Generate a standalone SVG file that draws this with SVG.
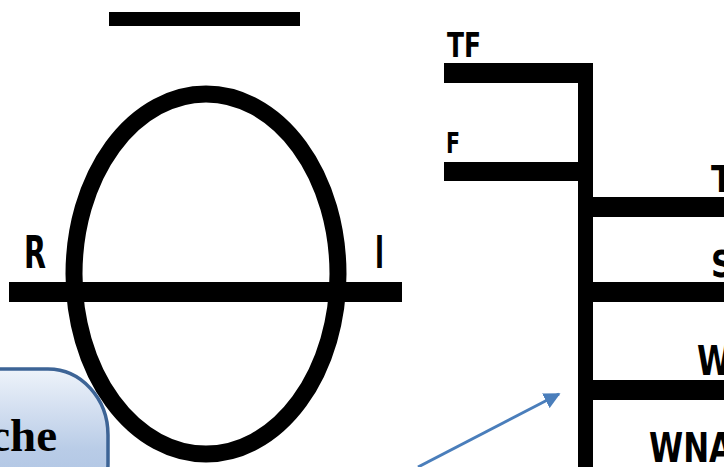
<svg xmlns="http://www.w3.org/2000/svg" width="724" height="467" viewBox="0 0 724 467">
<defs>
<linearGradient id="boxg" x1="0" y1="0" x2="0" y2="1">
<stop offset="0" stop-color="#eef3fa"/>
<stop offset="0.5" stop-color="#b9cce7"/>
<stop offset="1" stop-color="#a5bde0"/>
</linearGradient>
<marker id="ah" viewBox="0 0 10 10" refX="9" refY="5" markerWidth="5.5" markerHeight="5.5" orient="auto" markerUnits="strokeWidth">
<path d="M0,0 L10,5 L0,10 z" fill="#4a7ebb"/>
</marker>
<style>
.bar{fill:#000}
.lbl{font-family:"DejaVu Sans","Liberation Sans",sans-serif;font-weight:bold;fill:#000}
.conn{stroke:#4a7ebb;stroke-width:3;fill:none}
</style>
</defs>
<rect width="724" height="467" fill="#fff"/>
<g id="symbol-left">
<rect class="bar" x="109" y="12" width="191" height="14"/>
<ellipse cx="206" cy="274" rx="132" ry="180" fill="none" stroke="#000" stroke-width="17"/>
<rect class="bar" x="9" y="282" width="393" height="20"/>
<text class="lbl" x="24" y="268" font-size="45" textLength="22" lengthAdjust="spacingAndGlyphs">R</text>
<text class="lbl" x="375" y="268" font-size="45" textLength="9" lengthAdjust="spacingAndGlyphs">I</text>
</g>
<g id="symbol-right">
<rect class="bar" x="444" y="63" width="149" height="20"/>
<rect class="bar" x="444" y="162" width="149" height="19"/>
<rect class="bar" x="578" y="63" width="15" height="404"/>
<rect class="bar" x="578" y="197" width="146" height="20"/>
<rect class="bar" x="578" y="282" width="146" height="20"/>
<rect class="bar" x="578" y="380" width="146" height="20"/>
<text class="lbl" x="447" y="57" font-size="33" textLength="34" lengthAdjust="spacingAndGlyphs">TF</text>
<text class="lbl" x="446" y="153" font-size="29" textLength="14" lengthAdjust="spacingAndGlyphs">F</text>
<text class="lbl" x="711" y="192" font-size="37" textLength="22" lengthAdjust="spacingAndGlyphs">T</text>
<text class="lbl" x="711" y="277" font-size="37" textLength="22" lengthAdjust="spacingAndGlyphs">S</text>
<text class="lbl" x="697" y="375" font-size="41" textLength="34" lengthAdjust="spacingAndGlyphs">W</text>
<text class="lbl" x="649" y="462" font-size="41" textLength="84" lengthAdjust="spacingAndGlyphs">WNA</text>
</g>
<g id="box-che">
<rect x="-100" y="369" width="208" height="160" rx="60" ry="66" fill="url(#boxg)" stroke="#3d6496" stroke-width="3.5"/>
<text x="57" y="451" font-family="'Liberation Serif',serif" font-weight="bold" font-size="47" text-anchor="end" fill="#000">che</text>
</g>
<g id="connectors">
<line class="conn" x1="418" y1="467" x2="559" y2="394" marker-end="url(#ah)"/>
</g>
</svg>
